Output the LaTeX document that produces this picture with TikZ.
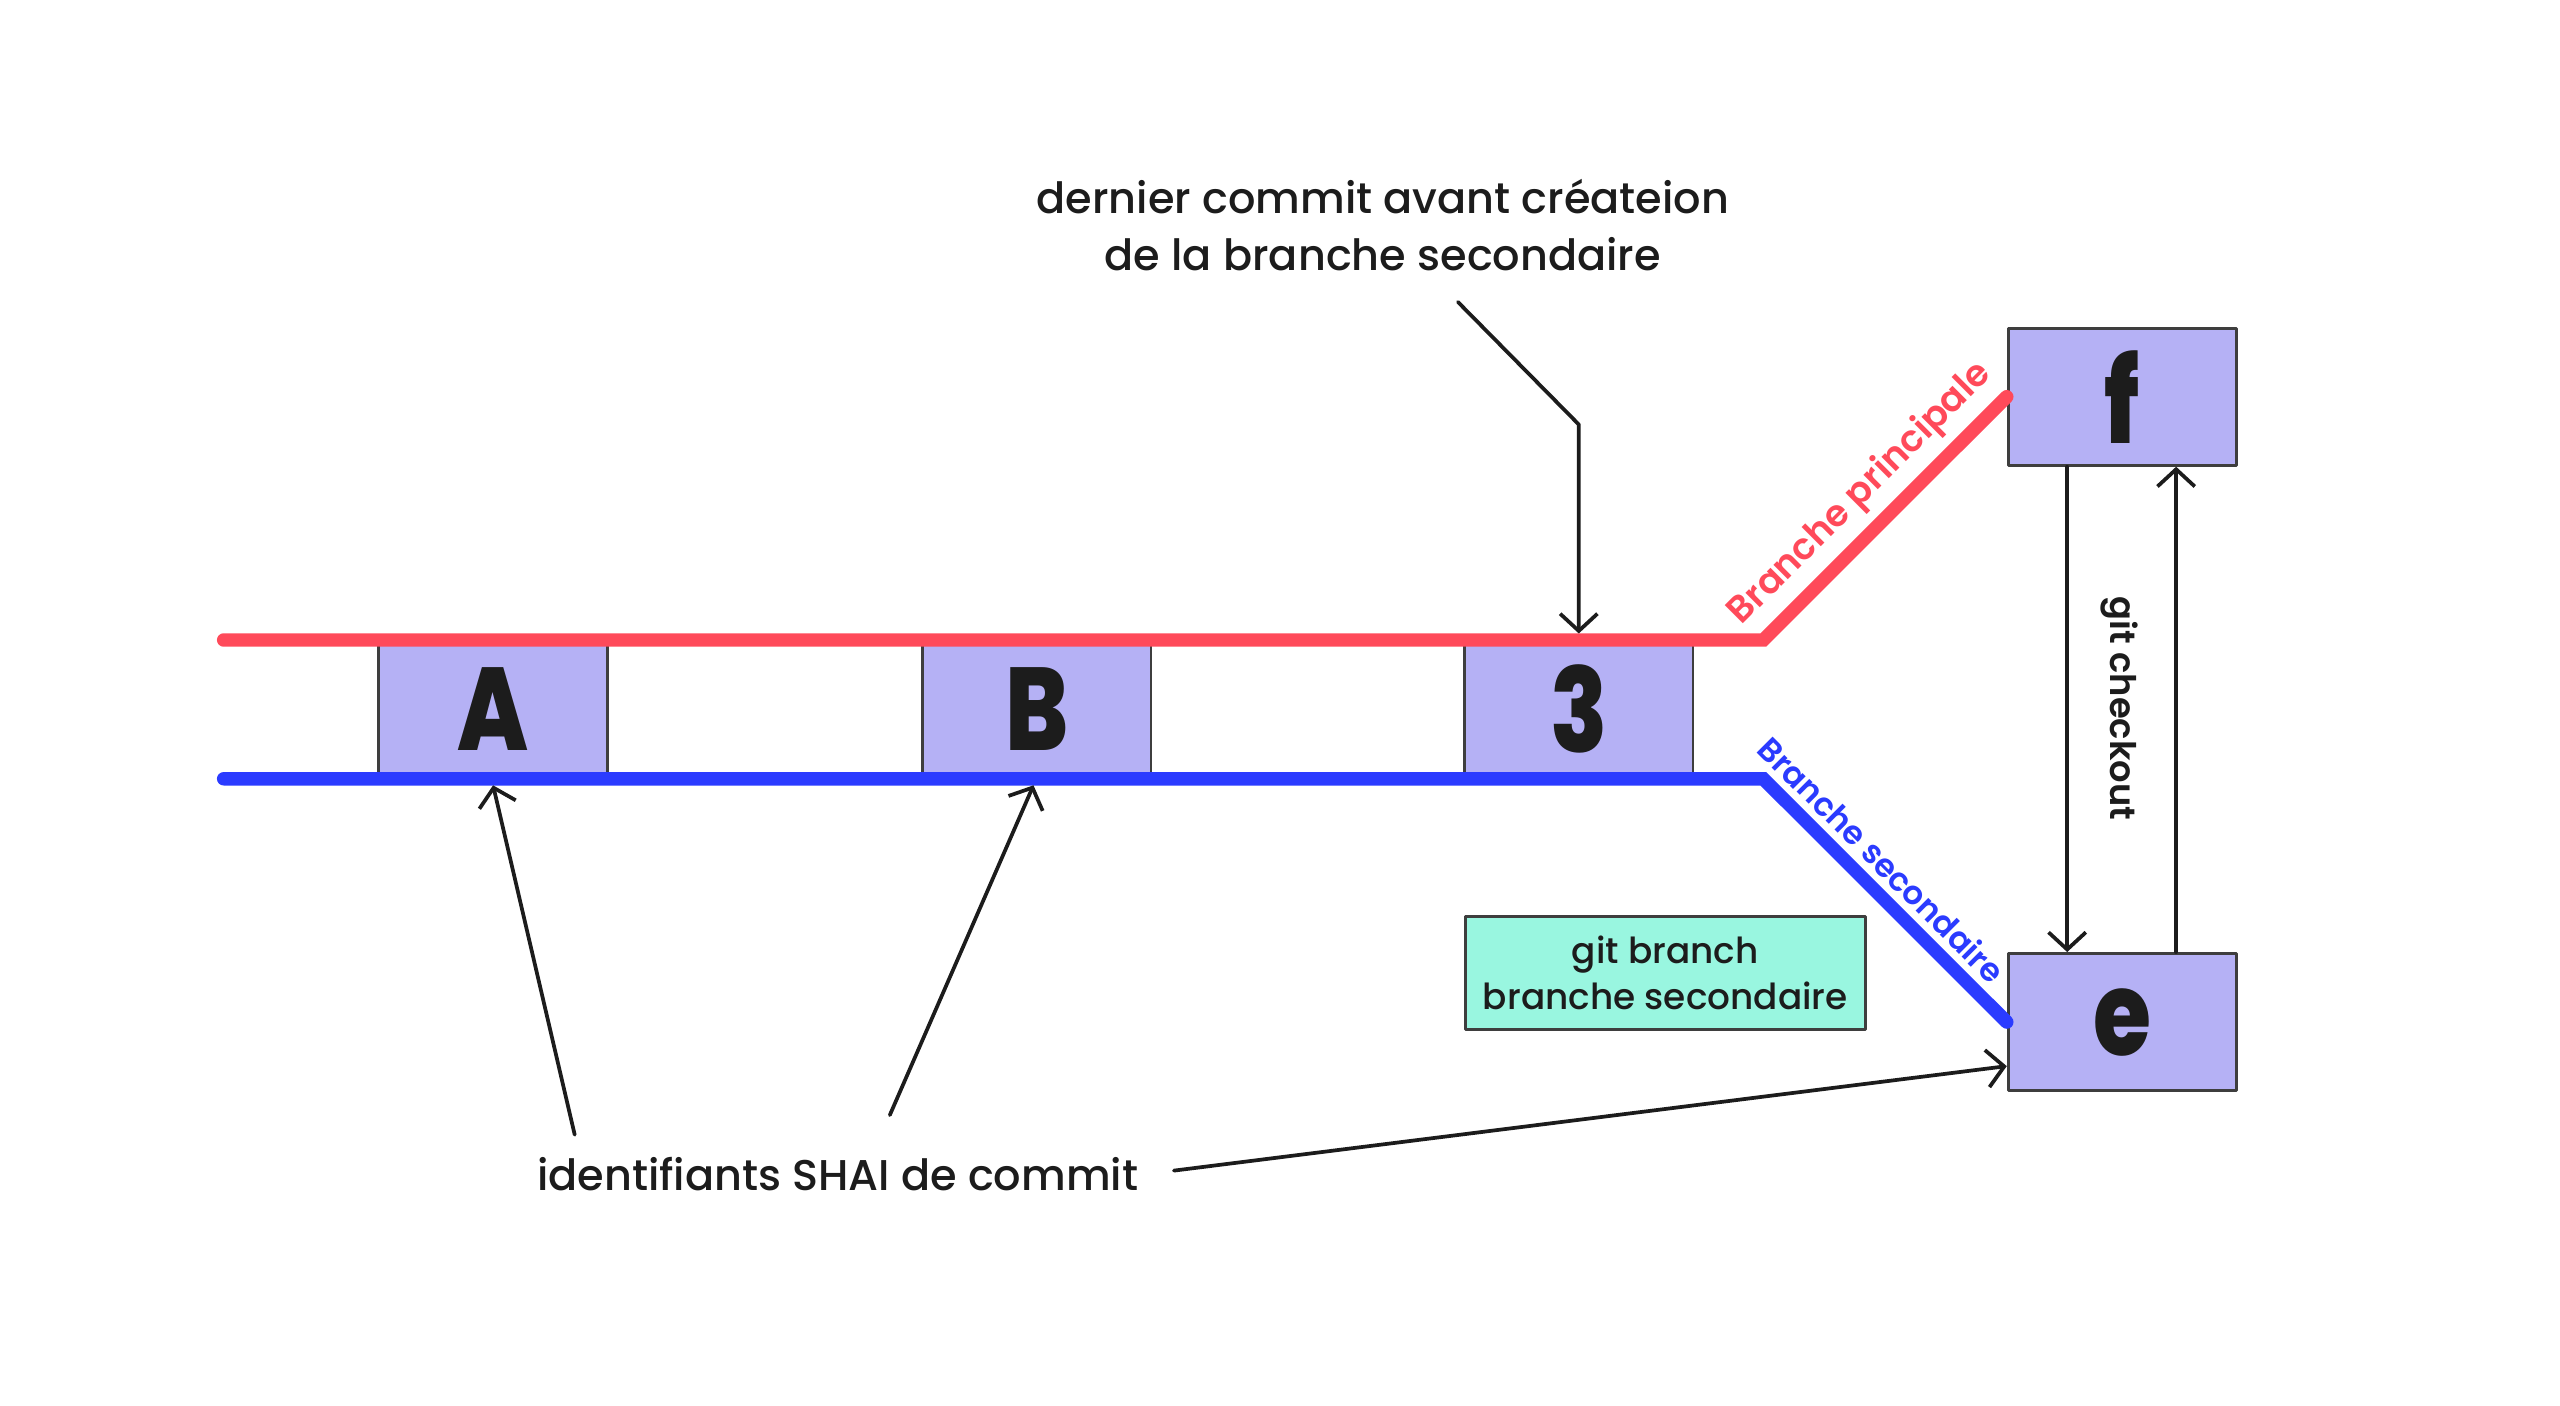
\documentclass[tikz,border=0pt]{standalone}
\usepackage{fontspec}
\setmainfont{Poppins Medium}[BoldFont=Poppins ExtraBold]
\usetikzlibrary{arrows.meta,calc}
\definecolor{rouge}{HTML}{FF4A5A}
\definecolor{bleu}{HTML}{2B3BFF}
\definecolor{lavande}{HTML}{B5B1F5}
\definecolor{menthe}{HTML}{99F6E0}
\definecolor{encre}{HTML}{1C1C1C}
\newfontfamily\lettre{Poppins ExtraBold}[FakeStretch=0.8]
\newfontfamily\demigras{Poppins SemiBold}
\tikzset{
  commit/.style={draw=encre!85, line width=1pt, fill=lavande, minimum width=2.8cm,
    minimum height=1.7cm, inner sep=0pt, text=encre,
    font=\fontsize{41}{41}\lettre},
  branche/.style={line width=4.7pt, line cap=round, line join=miter},
  fleche/.style={draw=encre, line width=1.3pt, ->},
}
\begin{document}
\begin{tikzpicture}[x=0.02cm, y=-0.02cm, >={Straight Barb[length=6pt,width=13pt]},
    font=\fontsize{15}{20}\selectfont, text=encre, line join=round, line cap=round]
    \fill[white] (0,0) rectangle (1568,861);
    % commits
    \node[commit] (a) at (302,434) {A};
    \node[commit] (b) at (635,434) {B};
    \node[commit] (c) at (967,434) {3};
    \node[commit, minimum height=1.68cm] (f) at (1300,243) {f};
    \node[commit, minimum height=1.68cm] (e) at (1300,626) {e};
    % branches
    \coordinate (rs) at (137,392); \coordinate (rb) at (1080,392);
    \coordinate (bs) at (137,477); \coordinate (bb) at (1080,477);
    \draw[branche, rouge] (rs) -- (rb) -- node[pos=0.5, above, sloped, inner sep=3pt,
        font=\fontsize{12.8}{13}\demigras, text=rouge] {Branche principale} (f.west);
    \draw[branche, bleu] (bs) -- (bb) -- node[pos=0.41, above, sloped, inner sep=2.5pt,
        font=\fontsize{11.3}{12}\demigras, text=bleu] {Branche secondaire} (e.west);
    \node[draw=encre!85, line width=1pt, fill=menthe, minimum width=4.9cm, minimum height=1.38cm,
        align=center, font=\fontsize{12.5}{16}\selectfont] (gb) at (1020,596) {git branch\\branche secondaire};
    % annotations
    \node[align=center] (note) at (847,138) {dernier commit avant créateion\\de la branche secondaire};
    \coordinate (n1) at (893,185); \coordinate (n2) at (967,260);
    \draw[fleche] (n1) -- (n2) -- ($(c |- rs)+(0,-4)$);
    \node (sha) at (513,719) {identifiants SHAI de commit};
    \coordinate (s1) at (352,695); \coordinate (s2) at (545,683); \coordinate (s3) at (719,717);
    \draw[fleche] (s1) -- ($(a |- bs)+(0,4)$);
    \draw[fleche] (s2) -- ($(b |- bs)+(-2,4)$);
    \draw[fleche] (s3) -- ($(e.west)+(0,27)$);
    % git checkout
    \draw[fleche] ($(f.south west)+(37,0)$) -- ($(e.north west)+(37,0)$);
    \draw[fleche] ($(e.north east)+(-38,0)$) -- ($(f.south east)+(-38,0)$);
    \node[rotate=-90, font=\fontsize{12.3}{13}\demigras] (gc) at (1298,434) {git checkout};
\end{tikzpicture}
\end{document}
